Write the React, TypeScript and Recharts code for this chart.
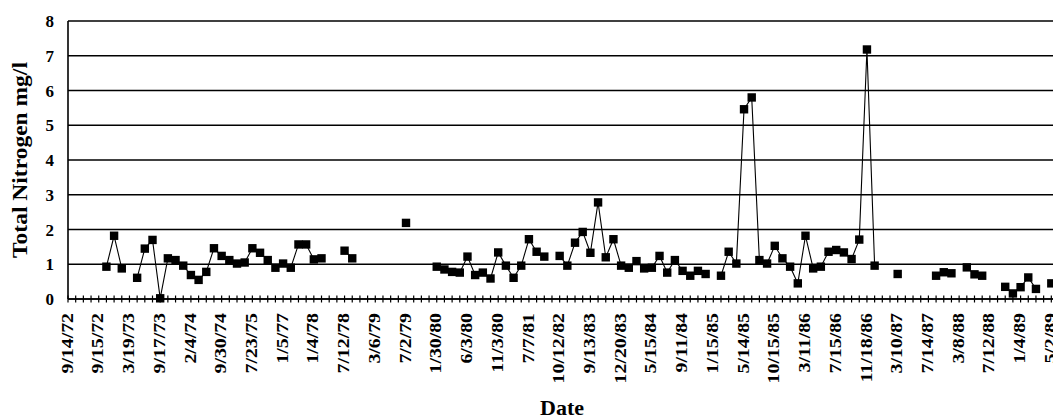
import { LineChart, Line, XAxis, YAxis, CartesianGrid } from 'recharts'

// labels sit on every 4th sampling slot
const tickLabels = [
  '9/14/72', '9/15/72', '3/19/73', '9/17/73', '2/4/74', '9/30/74', '7/23/75', '1/5/77',
  '1/4/78', '7/12/78', '3/6/79', '7/2/79', '1/30/80', '6/3/80', '11/3/80', '7/7/81',
  '10/12/82', '9/13/83', '12/20/83', '5/15/84', '9/11/84', '1/15/85', '5/14/85', '10/15/85',
  '3/11/86', '7/15/86', '11/18/86', '3/10/87', '7/14/87', '3/8/88', '7/12/88', '1/4/89', '5/2/89',
]

// total nitrogen, mg/l (null = no sample)
const nitrogen: (number | null)[] = [
  null, null, null, null, null, 0.93, 1.82, 0.88, null, 0.61,
  1.45, 1.7, 0.02, 1.17, 1.12, 0.96, 0.69, 0.55, 0.78, 1.46,
  1.24, 1.12, 1.02, 1.05, 1.46, 1.33, 1.12, 0.9, 1.02, 0.9,
  1.57, 1.57, 1.14, 1.17, null, null, 1.39, 1.17, null, null,
  null, null, null, null, 2.19, null, null, null, 0.93, 0.85,
  0.78, 0.76, 1.22, 0.69, 0.76, 0.59, 1.34, 0.96, 0.61, 0.96,
  1.72, 1.36, 1.22, null, 1.24, 0.96, 1.62, 1.93, 1.33, 2.78,
  1.2, 1.72, 0.96, 0.9, 1.09, 0.88, 0.9, 1.24, 0.76, 1.12,
  0.81, 0.67, 0.81, 0.72, null, 0.67, 1.36, 1.02, 5.46, 5.8,
  1.12, 1.02, 1.53, 1.17, 0.93, 0.45, 1.82, 0.88, 0.93, 1.36,
  1.41, 1.34, 1.15, 1.71, 7.18, 0.96, null, null, 0.72, null,
  null, null, null, 0.67, 0.77, 0.74, null, 0.91, 0.71, 0.67,
  null, null, 0.35, 0.16, 0.34, 0.62, 0.29, null, 0.45, null,
]

const yTicks = [0, 1, 2, 3, 4, 5, 6, 7, 8]

const data = nitrogen.map((n, i) => ({ i, n }))

const font = '"Liberation Serif", "Times New Roman", serif'

function DateTick(props: any) {
  const { x, y, payload } = props
  const i = payload.value
  return (
    <g>
      <line x1={x} x2={x} y1={y - 3.5} y2={y + 3.5} stroke="#000" strokeWidth={1.2} />
      {i % 4 === 0 && (
        <text
          x={0}
          y={0}
          transform={`translate(${x - 1},${y + 14}) rotate(-90) scale(1.2,1)`}
          textAnchor="end"
          dy="0.34em"
          fontFamily={font}
          fontWeight="bold"
          fontSize={16.5}
          fill="#000"
        >
          {tickLabels[i / 4]}
        </text>
      )}
    </g>
  )
}

function Square(props: any) {
  const { cx, cy, index } = props
  if (cx == null || cy == null || props.value == null) return <g key={index} />
  return <rect key={index} x={cx - 4.2} y={cy - 4.2} width={8.4} height={8.4} fill="#000" />
}

function YTitle(props: any) {
  const vb = props.viewBox
  const cy = vb.y + vb.height / 2
  return (
    <text
      x={0}
      y={0}
      transform={`translate(20,${cy}) rotate(-90) scale(1.12,1)`}
      textAnchor="middle"
      dy="0.34em"
      fontFamily={font}
      fontWeight="bold"
      fontSize={21}
      fill="#000"
    >
      Total Nitrogen mg/l
    </text>
  )
}

function XTitle() {
  return (
    <text x={562} y={415} textAnchor="middle" fontFamily={font} fontWeight="bold" fontSize={22} fill="#000">
      Date
    </text>
  )
}

export default function App() {
  return (
    <div style={{ position: 'absolute', left: 0, top: 0, width: 1053, height: 420, overflow: 'hidden', background: '#fff' }}>
      <LineChart width={1064} height={420} data={data} margin={{ top: 21, right: 5, left: 0, bottom: 0 }}>
        <CartesianGrid vertical={false} stroke="#000" strokeWidth={1.3} />
        <XAxis
          dataKey="i"
          type="category"
          interval={0}
          height={121}
          tickLine={false}
          tickSize={0}
          tickMargin={0}
          tick={DateTick}
          axisLine={{ stroke: '#000', strokeWidth: 1.6 }}
          label={<XTitle />}
        />
        <YAxis
          domain={[0, 8]}
          ticks={yTicks}
          interval={0}
          width={68}
          tickLine={false}
          tickSize={0}
          tickMargin={14}
          axisLine={{ stroke: '#000', strokeWidth: 1.6 }}
          tick={{ fontFamily: font, fontWeight: 'bold', fontSize: 17, fill: '#000' }}
          label={<YTitle />}
        />
        <Line
          dataKey="n"
          stroke="#000"
          strokeWidth={1.1}
          dot={Square}
          activeDot={false}
          isAnimationActive={false}
        />
      </LineChart>
    </div>
  )
}
